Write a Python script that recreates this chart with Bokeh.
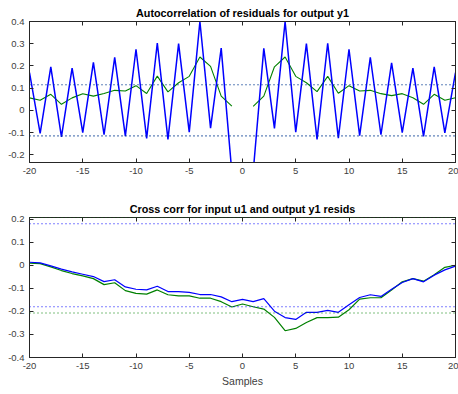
from bokeh.plotting import figure
from bokeh.layouts import column
from bokeh.models import LinearAxis, Range1d, FixedTicker, Span
from bokeh.embed import file_html
from bokeh.resources import INLINE

nan = float("nan")

lags = list(range(-20, 21))

# Autocorrelation of residuals (lag 0 omitted)
auto_blue = [0.17, -0.104, 0.196, -0.12, 0.19, -0.10, 0.216, -0.11, 0.238, -0.116,
             0.275, -0.126, 0.303, -0.131, 0.30, -0.098, 0.40, -0.08, 0.28, -0.28,
             nan,
             -0.28, 0.279, -0.081, 0.40, -0.098, 0.30, -0.131, 0.302, -0.125, 0.275,
             -0.114, 0.239, -0.11, 0.214, -0.10, 0.19, -0.117, 0.196, -0.102, 0.17]
auto_green = [0.056, 0.045, 0.072, 0.027, 0.056, 0.075, 0.064, 0.076, 0.09, 0.087,
              0.111, 0.076, 0.154, 0.083, 0.124, 0.153, 0.24, 0.198, 0.064, 0.019,
              nan,
              0.018, 0.064, 0.196, 0.24, 0.153, 0.124, 0.084, 0.153, 0.077, 0.111,
              0.087, 0.09, 0.075, 0.066, 0.075, 0.057, 0.027, 0.072, 0.045, 0.057]
auto_conf = 0.115

# Cross correlation input u1 / output y1 residuals
cross_blue = [0.013, 0.010, -0.003, -0.017, -0.029, -0.039, -0.049, -0.071, -0.063, -0.094,
              -0.104, -0.107, -0.091, -0.114, -0.114, -0.118, -0.127, -0.127, -0.137, -0.158,
              -0.148,
              -0.158, -0.145, -0.199, -0.227, -0.235, -0.204, -0.204, -0.196, -0.204, -0.171,
              -0.140, -0.128, -0.135, -0.104, -0.075, -0.058, -0.072, -0.043, -0.020, -0.004]
cross_green = [0.009, 0.007, -0.007, -0.023, -0.036, -0.046, -0.058, -0.084, -0.076, -0.110,
               -0.122, -0.125, -0.107, -0.128, -0.133, -0.133, -0.143, -0.143, -0.158, -0.181,
               -0.168,
               -0.180, -0.190, -0.226, -0.284, -0.274, -0.248, -0.227, -0.227, -0.225, -0.193,
               -0.147, -0.141, -0.141, -0.107, -0.072, -0.058, -0.069, -0.041, -0.009, 0.0]
cross_conf_blue = 0.18
cross_conf_green = 0.207

x_ticks = [-20, -15, -10, -5, 0, 5, 10, 15, 20]
x_labels = ["-20", "-15", "-10", "-5", "0", "5", "10", "15", "20"]
top_y_ticks = [-0.2, -0.1, 0, 0.1, 0.2, 0.3, 0.4]
top_y_labels = ["-0.2", "-0.1", "0", "0.1", "0.2", "0.3", "0.4"]
bot_y_ticks = [-0.4, -0.3, -0.2, -0.1, 0, 0.1, 0.2]
bot_y_labels = ["-0.4", "-0.3", "-0.2", "-0.1", "0", "0.1", "0.2"]

BLUE = "#0000ff"
GREEN = "#008000"
AX = "#262626"
TXT = "#404040"
FONT = "Liberation Sans"


def style_axis(ax, ticks, labels=None, show=True):
    ax.ticker = FixedTicker(ticks=ticks)
    ax.axis_line_color = AX
    ax.major_tick_line_color = AX
    ax.major_tick_in = 4
    ax.major_tick_out = 0
    ax.minor_tick_line_color = None
    if show:
        ax.major_label_overrides = {t: l for t, l in zip(ticks, labels)}
        ax.major_label_text_font = FONT
        ax.major_label_text_font_size = "9.5px"
        ax.major_label_text_color = TXT
        ax.major_label_standoff = 5
    else:
        ax.major_label_text_font_size = "0px"
        ax.major_label_text_color = None
        ax.major_label_standoff = 0


def make_fig(title, y_range, frame_h, border_top, border_bottom, yt, yl):
    p = figure(frame_width=426, frame_height=frame_h,
               x_range=Range1d(-20, 20), y_range=Range1d(*y_range),
               output_backend="svg", toolbar_location=None,
               min_border_left=29, min_border_right=3,
               min_border_top=border_top, min_border_bottom=border_bottom,
               title=title)
    p.title.text_font = FONT
    p.title.text_font_size = "10.8px"
    p.title.text_font_style = "bold"
    p.title.text_color = "#000000"
    p.title.align = "center"
    p.title.standoff = 6
    p.xgrid.visible = False
    p.ygrid.visible = False
    p.outline_line_color = AX
    p.background_fill_color = "white"
    p.border_fill_color = "white"
    bottom = p.below[0]
    style_axis(bottom, x_ticks, x_labels)
    style_axis(p.left[0], yt, yl)
    top = LinearAxis()
    style_axis(top, x_ticks, show=False)
    p.add_layout(top, "above")
    right = LinearAxis()
    style_axis(right, yt, show=False)
    p.add_layout(right, "right")
    return p, bottom


p1, _ = make_fig("Autocorrelation of residuals for output y1", (-0.235, 0.4), 141, 21, 28,
                 top_y_ticks, top_y_labels)
for c in (GREEN, BLUE):
    for s in (auto_conf, -auto_conf):
        p1.add_layout(Span(location=s, dimension="width", line_color=c,
                           line_dash="1 3", line_width=1.1, line_alpha=0.7))
p1.line(lags, auto_green, line_color=GREEN, line_width=1.1)
p1.line(lags, auto_blue, line_color=BLUE, line_width=1.5)

p2, xb = make_fig("Cross corr for input u1 and output y1 resids", (-0.4, 0.207), 140, 27, 37,
                  bot_y_ticks, bot_y_labels)
for c, v in ((GREEN, cross_conf_green), (BLUE, cross_conf_blue)):
    for s in (v, -v):
        p2.add_layout(Span(location=s, dimension="width", line_color=c,
                           line_dash="1 3", line_width=1.1))
p2.line(lags, cross_green, line_color=GREEN, line_width=1.2)
p2.line(lags, cross_blue, line_color=BLUE, line_width=1.2)
xb.axis_label = "Samples"
xb.axis_label_text_font = FONT
xb.axis_label_text_font_size = "10.5px"
xb.axis_label_text_font_style = "normal"
xb.axis_label_text_color = TXT
xb.axis_label_standoff = 3

layout = column(p1, p2, spacing=0)
open("out.html", "w").write(file_html(layout, INLINE))
